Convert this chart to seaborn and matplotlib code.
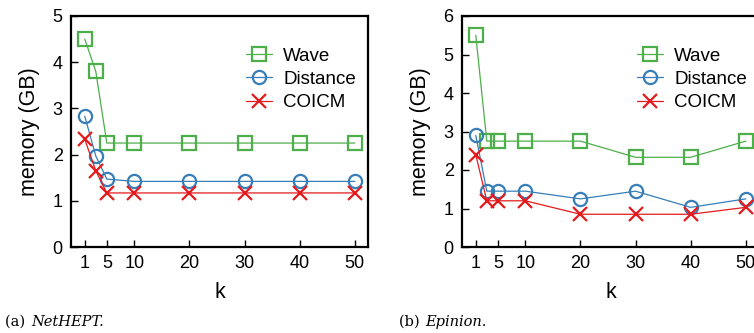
import matplotlib
matplotlib.use('Agg')
import matplotlib.pyplot as plt
import seaborn as sns

sns.set_style('ticks')
plt.rcParams['font.family'] = ['Liberation Sans', 'DejaVu Sans']
plt.rcParams['text.color'] = 'black'
plt.rcParams['axes.labelcolor'] = 'black'
plt.rcParams['xtick.color'] = 'black'
plt.rcParams['ytick.color'] = 'black'

k = [1, 3, 5, 10, 20, 30, 40, 50]
xticks = [1, 5, 10, 20, 30, 40, 50]

# NetHEPT
wave_a = [4.5, 3.8, 2.25, 2.25, 2.25, 2.25, 2.25, 2.25]
dist_a = [2.83, 1.97, 1.47, 1.42, 1.42, 1.42, 1.42, 1.42]
coicm_a = [2.33, 1.65, 1.17, 1.17, 1.17, 1.17, 1.17, 1.17]

# Epinion
wave_b = [5.5, 2.75, 2.75, 2.75, 2.75, 2.33, 2.33, 2.75]
dist_b = [2.9, 1.45, 1.45, 1.45, 1.25, 1.45, 1.03, 1.25]
coicm_b = [2.4, 1.2, 1.2, 1.2, 0.85, 0.85, 0.85, 1.03]

names = ['Wave', 'Distance', 'COICM']
colors = ['#4daf4a', '#377eb8', '#e41a1c']
markers = ['s', 'o', 'x']

fig = plt.figure(figsize=(7.54, 3.33), dpi=100)
W, H = 754, 333
ax1 = fig.add_axes([71 / W, 86 / H, 297 / W, 231 / H])
ax2 = fig.add_axes([462 / W, 86 / H, 297 / W, 231 / H])


def draw(ax, series, ymax):
    for vals, name, c, m in zip(series, names, colors, markers):
        sns.lineplot(x=k, y=vals, ax=ax, color=c, marker=m, markersize=9.5,
                     markerfacecolor='none', markeredgecolor=c, markeredgewidth=1.6,
                     linewidth=0.9, label=name)
    ax.set_xlim(-1.5, 52.4)
    ax.set_ylim(0, ymax)
    ax.set_xticks(xticks)
    ax.set_yticks(range(0, ymax + 1))
    ax.tick_params(direction='in', length=5, width=1, labelsize=13, pad=6)
    for s in ax.spines.values():
        s.set_linewidth(1.6)
        s.set_color('black')
    ax.set_xlabel('k', fontsize=15.5, labelpad=7)
    ax.set_ylabel('memory (GB)', fontsize=15.5, labelpad=9)
    ax.legend(loc='upper right', bbox_to_anchor=(0.985, 0.895), frameon=False,
              fontsize=13.5, handlelength=1.4, handletextpad=0.6, labelspacing=0.32,
              borderaxespad=0)


draw(ax1, [wave_a, dist_a, coicm_a], 5)
draw(ax2, [wave_b, dist_b, coicm_b], 6)

fig.text(5 / W, 1 - 322 / H, '(a) ', fontsize=10.5, family='DejaVu Serif', va='center')
fig.text(31 / W, 1 - 322 / H, 'NetHEPT.', fontsize=10.5, family='DejaVu Serif', style='italic', va='center')
fig.text(399 / W, 1 - 322 / H, '(b) ', fontsize=10.5, family='DejaVu Serif', va='center')
fig.text(425 / W, 1 - 322 / H, 'Epinion.', fontsize=10.5, family='DejaVu Serif', style='italic', va='center')

fig.savefig('out.png', dpi=100)
